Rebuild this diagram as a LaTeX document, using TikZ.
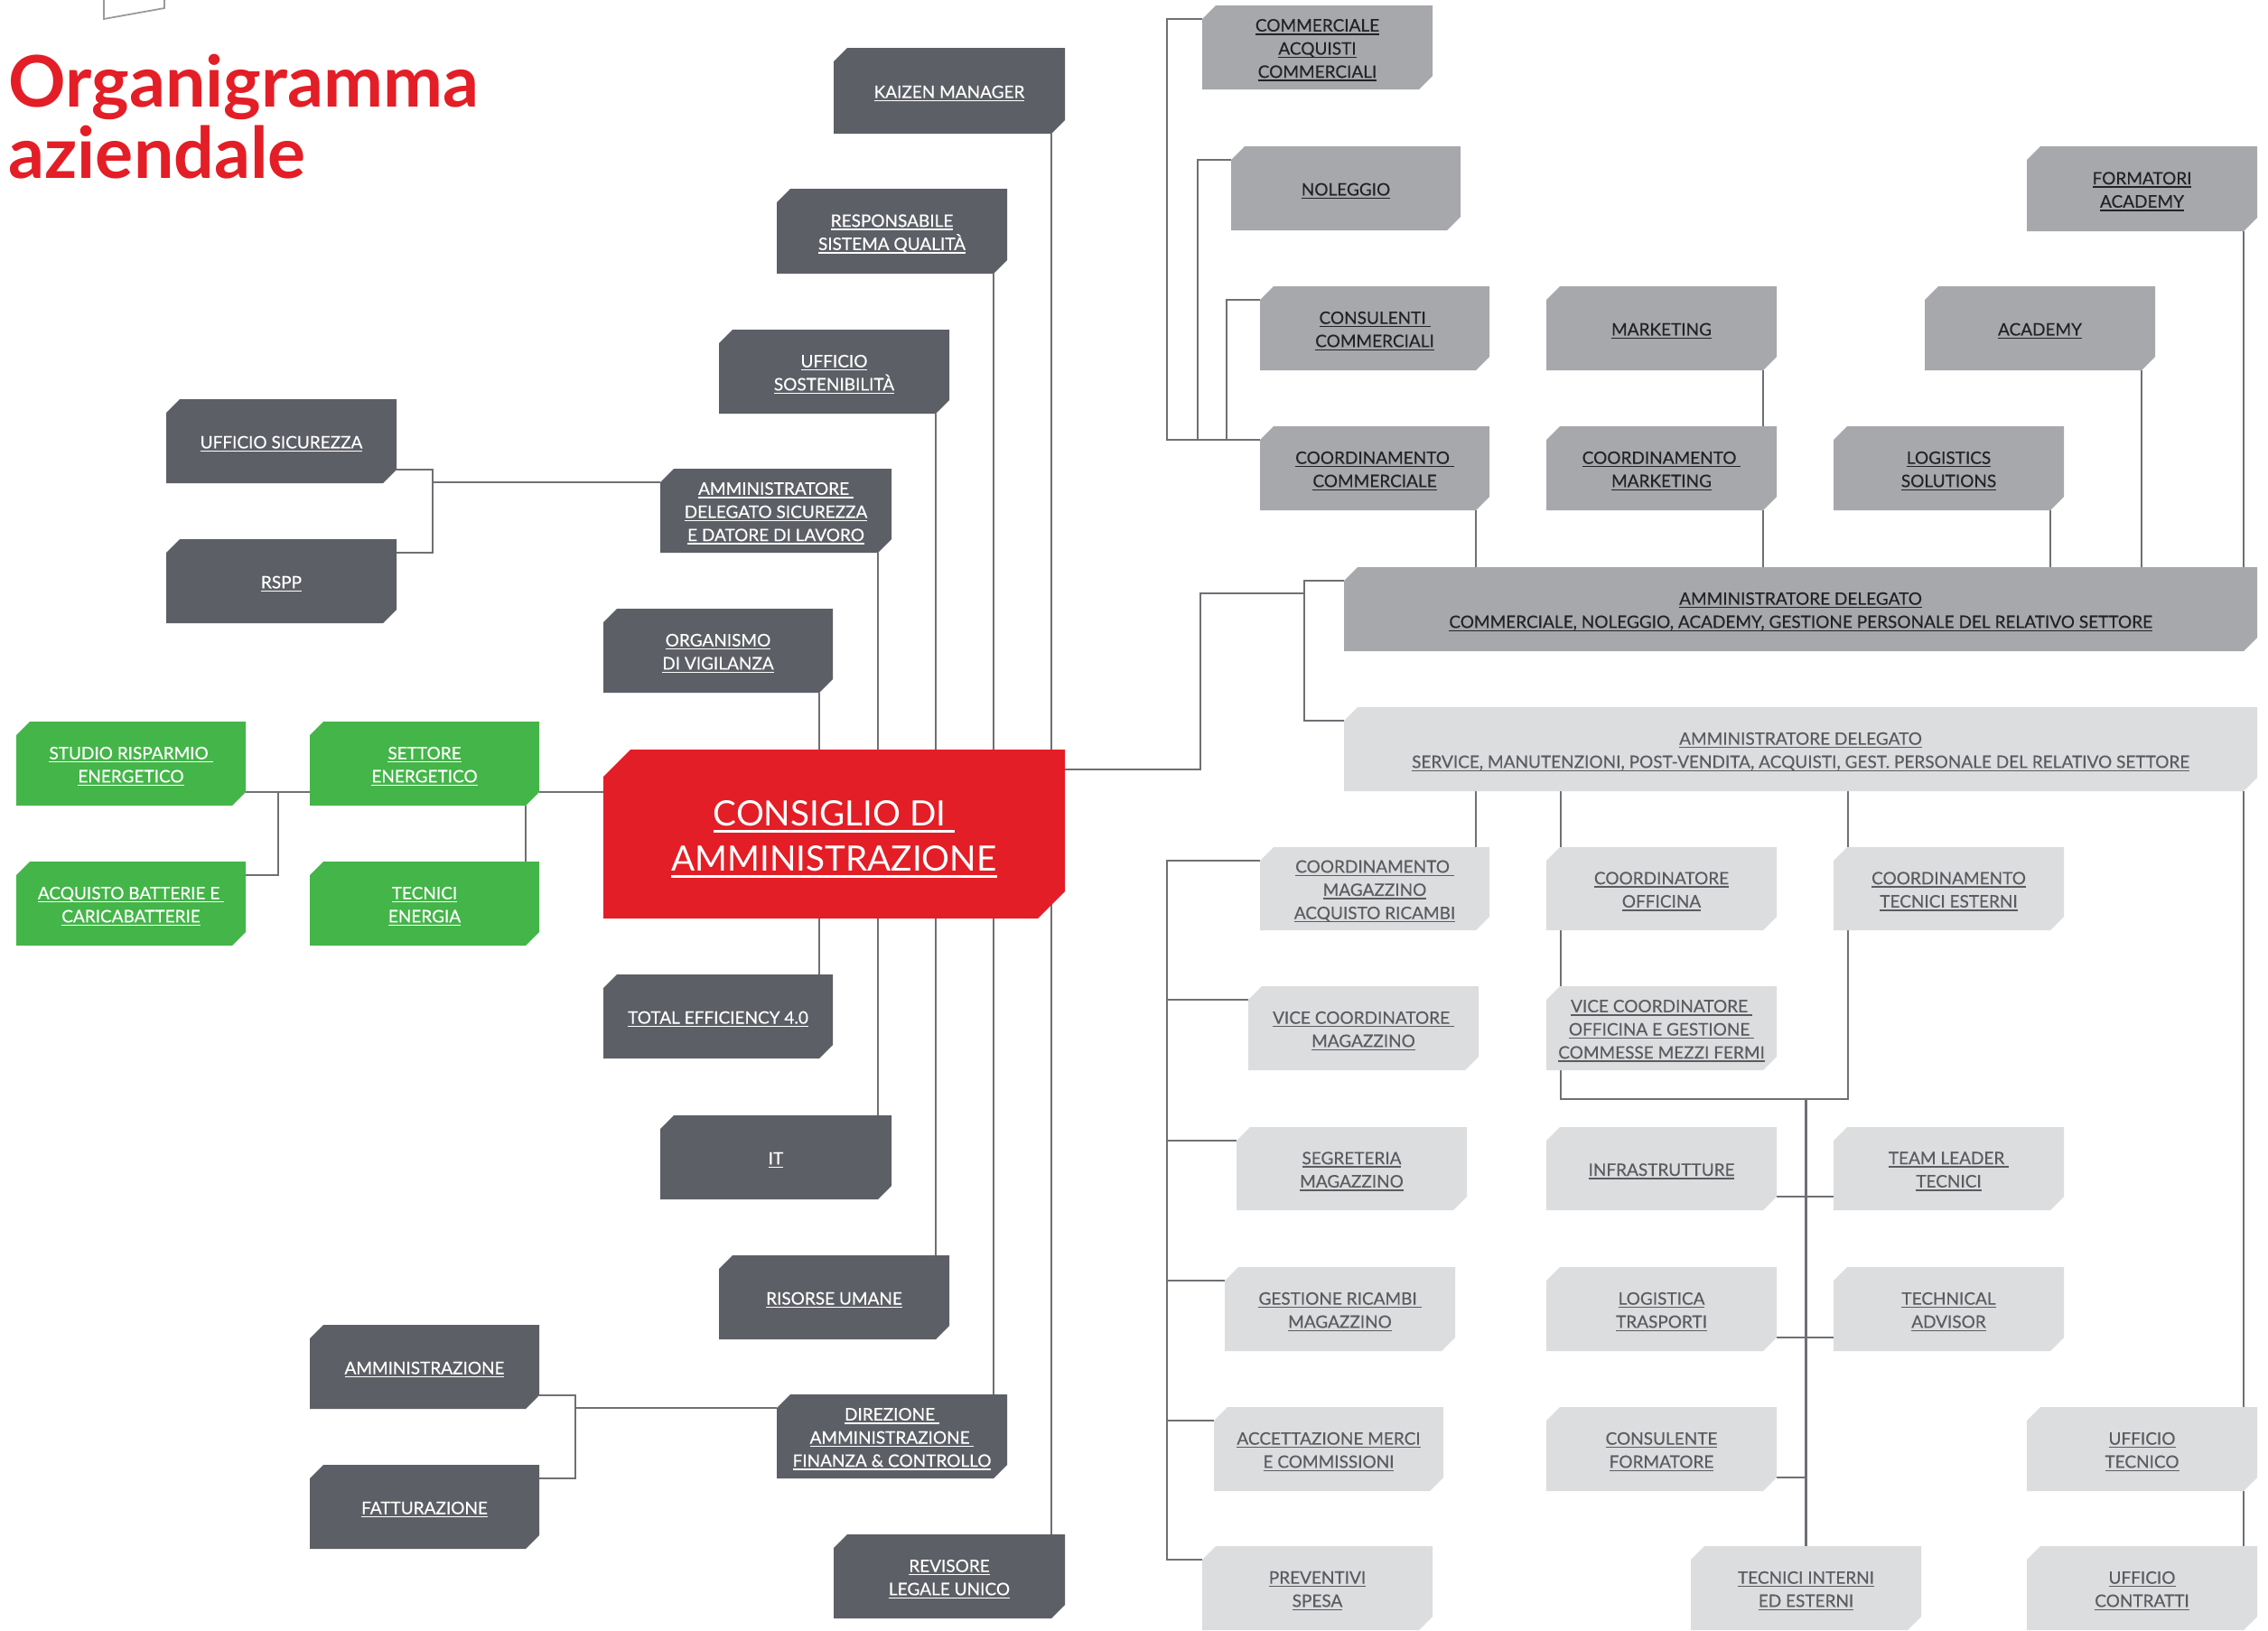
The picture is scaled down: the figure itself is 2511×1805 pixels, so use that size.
\documentclass[tikz,border=0pt]{standalone}
\usepackage{fontspec}
\setmainfont{Lato}
\newfontfamily\bxfont[FakeBold=0.35]{Lato}
\usetikzlibrary{calc}
\pgfdeclarelayer{bg}
\pgfsetlayers{bg,main}
\definecolor{cdark}{HTML}{5D5F66}
\definecolor{cmed}{HTML}{A7A8AB}
\definecolor{clight}{HTML}{DCDDDF}
\definecolor{cred}{HTML}{E31E26}
\definecolor{cgreen}{HTML}{44B549}
\definecolor{cline}{HTML}{6E7075}
\definecolor{ctxtm}{HTML}{232325}
\definecolor{ctxtl}{HTML}{5B5C60}
\newcommand\ulx[1]{\leavevmode\setbox0=\hbox{#1}\rlap{\rule[-0.2em]{\wd0}{0.08em}}\box0}
\tikzset{
  chf/.style 2 args={path picture={\fill[#1] (path picture bounding box.south west)
     -- ([yshift=-#2]path picture bounding box.north west)
     -- ([xshift=#2]path picture bounding box.north west)
     -- (path picture bounding box.north east)
     -- ([yshift=#2]path picture bounding box.south east)
     -- ([xshift=-#2]path picture bounding box.south east) -- cycle;}},
  bx/.style={rectangle, inner sep=0pt, outer sep=0pt},
  bxt/.style={inner sep=0pt, outer sep=0pt, align=center, font=\bxfont\fontsize{5.4}{7.3}\selectfont, yshift=-0.03cm},
  dk/.style={bx, chf={cdark}{.15cm}},
  gr/.style={bx, chf={cgreen}{.15cm}},
  md/.style={bx, chf={cmed}{.15cm}},
  lt/.style={bx, chf={clight}{.15cm}},
  rd/.style={bx, chf={cred}{.30cm}},
  dkt/.style={bxt, text=white},
  grt/.style={bxt, text=white},
  mdt/.style={bxt, text=ctxtm},
  ltt/.style={bxt, text=ctxtl},
  rdt/.style={bxt, text=white, font=\fontsize{11}{14.2}\selectfont, yshift=-0.03cm},
  ln/.style={draw=cline, line width=0.6pt}
}
\newcommand\obox[7]{%
  \node[#2, minimum width={(#5-#3)*0.01cm}, minimum height={(#6-#4)*0.01cm}] (#1) at ({(#3+#5)/2},{(#4+#6)/2}) {};
  \node[#2t] (#1-lab) at (#1.center) {#7};
  \coordinate (#1-tl) at ([yshift=-.15cm]#1.north west);
  \coordinate (#1-rt) at ([yshift=-.15cm]#1.north east);
  \coordinate (#1-rb) at ([yshift=.15cm]#1.south east);
  \coordinate (#1-bx) at ([xshift=-.15cm]#1.south east);
  \coordinate (#1-tx) at ([xshift=-.15cm]#1.north east);
  \coordinate (#1-ty) at ([xshift=.16cm]#1.north west);
  \coordinate (#1-by) at ([xshift=.16cm]#1.south west);
}
\begin{document}
\begin{tikzpicture}[x=0.01cm, y=-0.01cm]
\useasboundingbox (0,0) rectangle (2511,1805);
\begin{pgfonlayer}{bg}
\fill[white] (0,0) rectangle (2511,1805);
\end{pgfonlayer}

% decorative fragment at top left
\draw[draw=black!40, line width=0.5pt] (115,-5) -- (115,21) -- (182,9) -- (182,-5);

% title
\node[anchor=north west, inner sep=0pt, align=left, text=cred,
      font=\fontsize{22.4}{22.6}\selectfont\bfseries] (title) at (9,59) {Organigramma\\aziendale};

% centre column
\obox{kz}{dk}{923}{53}{1179}{148}{\ulx{KAIZEN MANAGER}}
\obox{resp}{dk}{860}{209}{1115}{303}{\ulx{RESPONSABILE}\\\ulx{SISTEMA QUALITÀ}}
\obox{sost}{dk}{796}{365}{1051}{458}{\ulx{UFFICIO}\\\ulx{SOSTENIBILITÀ}}
\obox{adsic}{dk}{731}{519}{987}{612}{\ulx{AMMINISTRATORE\ }\\\ulx{DELEGATO SICUREZZA}\\\ulx{E DATORE DI LAVORO}}
\obox{odv}{dk}{668}{674}{922}{767}{\ulx{ORGANISMO}\\\ulx{DI VIGILANZA}}
\obox{cda}{rd}{668}{830}{1179}{1017}{\ulx{CONSIGLIO DI\ }\\\ulx{AMMINISTRAZIONE}}
\obox{te}{dk}{668}{1079}{922}{1172}{\ulx{TOTAL EFFICIENCY 4.0}}
\obox{it}{dk}{731}{1235}{987}{1328}{\ulx{IT}}
\obox{ris}{dk}{796}{1390}{1051}{1483}{\ulx{RISORSE UMANE}}
\obox{dir}{dk}{860}{1544}{1115}{1637}{\ulx{DIREZIONE\ }\\\ulx{AMMINISTRAZIONE\ }\\\ulx{FINANZA \& CONTROLLO}}
\obox{rev}{dk}{923}{1699}{1179}{1792}{\ulx{REVISORE}\\\ulx{LEGALE UNICO}}

% left
\obox{usic}{dk}{184}{442}{439}{535}{\ulx{UFFICIO SICUREZZA}}
\obox{rspp}{dk}{184}{597}{439}{690}{\ulx{RSPP}}
\obox{amm}{dk}{343}{1467}{597}{1560}{\ulx{AMMINISTRAZIONE}}
\obox{fatt}{dk}{343}{1622}{597}{1715}{\ulx{FATTURAZIONE}}
\obox{studio}{gr}{18}{799}{272}{892}{\ulx{STUDIO RISPARMIO\ }\\\ulx{ENERGETICO}}
\obox{settore}{gr}{343}{799}{597}{892}{\ulx{SETTORE}\\\ulx{ENERGETICO}}
\obox{acq}{gr}{18}{954}{272}{1047}{\ulx{ACQUISTO BATTERIE E\ }\\\ulx{CARICABATTERIE}}
\obox{tecen}{gr}{343}{954}{597}{1047}{\ulx{TECNICI}\\\ulx{ENERGIA}}

% right, commercial
\obox{comm}{md}{1331}{6}{1586}{99}{\ulx{COMMERCIALE}\\\ulx{ACQUISTI}\\\ulx{COMMERCIALI}}
\obox{nol}{md}{1363}{162}{1617}{255}{\ulx{NOLEGGIO}}
\obox{cons}{md}{1395}{317}{1649}{410}{\ulx{CONSULENTI\ }\\\ulx{COMMERCIALI}}
\obox{ccomm}{md}{1395}{472}{1649}{565}{\ulx{COORDINAMENTO\ }\\\ulx{COMMERCIALE}}
\obox{mkt}{md}{1712}{317}{1967}{410}{\ulx{MARKETING}}
\obox{cmkt}{md}{1712}{472}{1967}{565}{\ulx{COORDINAMENTO\ }\\\ulx{MARKETING}}
\obox{logs}{md}{2030}{472}{2285}{565}{\ulx{LOGISTICS}\\\ulx{SOLUTIONS}}
\obox{acad}{md}{2131}{317}{2386}{410}{\ulx{ACADEMY}}
\obox{form}{md}{2244}{162}{2499}{256}{\ulx{FORMATORI}\\\ulx{ACADEMY}}
\obox{adc}{md}{1488}{628}{2499}{721}{\ulx{AMMINISTRATORE DELEGATO}\\\ulx{COMMERCIALE, NOLEGGIO, ACADEMY, GESTIONE PERSONALE DEL RELATIVO SETTORE}}

% right, service
\obox{ads}{lt}{1488}{783}{2499}{876}{\ulx{AMMINISTRATORE DELEGATO}\\\ulx{SERVICE, MANUTENZIONI, POST-VENDITA, ACQUISTI, GEST. PERSONALE DEL RELATIVO SETTORE}}
\obox{cmag}{lt}{1395}{938}{1649}{1030}{\ulx{COORDINAMENTO\ }\\\ulx{MAGAZZINO}\\\ulx{ACQUISTO RICAMBI}}
\obox{coff}{lt}{1712}{938}{1967}{1030}{\ulx{COORDINATORE}\\\ulx{OFFICINA}}
\obox{ctec}{lt}{2030}{938}{2285}{1030}{\ulx{COORDINAMENTO}\\\ulx{TECNICI ESTERNI}}
\obox{vmag}{lt}{1382}{1092}{1637}{1185}{\ulx{VICE COORDINATORE\ }\\\ulx{MAGAZZINO}}
\obox{voff}{lt}{1712}{1092}{1967}{1185}{\ulx{VICE COORDINATORE\ }\\\ulx{OFFICINA E GESTIONE\ }\\\ulx{COMMESSE MEZZI FERMI}}
\obox{seg}{lt}{1369}{1248}{1624}{1340}{\ulx{SEGRETERIA}\\\ulx{MAGAZZINO}}
\obox{infra}{lt}{1712}{1248}{1967}{1340}{\ulx{INFRASTRUTTURE}}
\obox{tl}{lt}{2030}{1248}{2285}{1340}{\ulx{TEAM LEADER\ }\\\ulx{TECNICI}}
\obox{gest}{lt}{1356}{1403}{1611}{1496}{\ulx{GESTIONE RICAMBI\ }\\\ulx{MAGAZZINO}}
\obox{logt}{lt}{1712}{1403}{1967}{1496}{\ulx{LOGISTICA}\\\ulx{TRASPORTI}}
\obox{tadv}{lt}{2030}{1403}{2285}{1496}{\ulx{TECHNICAL}\\\ulx{ADVISOR}}
\obox{acc}{lt}{1344}{1558}{1598}{1651}{\ulx{ACCETTAZIONE MERCI}\\\ulx{E COMMISSIONI}}
\obox{cform}{lt}{1712}{1558}{1967}{1651}{\ulx{CONSULENTE}\\\ulx{FORMATORE}}
\obox{utec}{lt}{2244}{1558}{2499}{1651}{\ulx{UFFICIO}\\\ulx{TECNICO}}
\obox{prev}{lt}{1331}{1712}{1586}{1805}{\ulx{PREVENTIVI}\\\ulx{SPESA}}
\obox{tint}{lt}{1872}{1712}{2127}{1805}{\ulx{TECNICI INTERNI}\\\ulx{ED ESTERNI}}
\obox{ucon}{lt}{2244}{1712}{2499}{1805}{\ulx{UFFICIO}\\\ulx{CONTRATTI}}

% junction coordinates
\coordinate (js) at (479,0);
\coordinate (jg) at (308,0);
\coordinate (jd) at (637,0);
\coordinate (cdap) at ([yshift=-.22cm]cda.north east);
\coordinate (jr) at (1329,657);
\coordinate (jv) at (1444,0);
\coordinate (jc1) at (1292,0);
\coordinate (jc2) at (1326,0);
\coordinate (jc3) at (1358,0);
\coordinate (jt) at (0,1217);
\coordinate (jm) at (1292,0);

\begin{pgfonlayer}{bg}
% centre verticals
\draw[ln] (kz-bx) -- (rev-tx);
\draw[ln] (resp-bx) -- (dir-tx);
\draw[ln] (sost-bx) -- (ris-tx);
\draw[ln] (adsic-bx) -- (it-tx);
\draw[ln] (odv-bx) -- (te-tx);
% safety
\draw[ln] (usic-rb) -- (usic-rb -| js) -- (rspp-rt -| js) -- (rspp-rt);
\draw[ln] (adsic-tl) -- (adsic-tl -| js);
% energy
\draw[ln] (studio-rb) -- (studio-rb -| settore.west);
\draw[ln] (settore-rb) -- (settore-rb -| cda.west);
\draw[ln] (studio-rb -| jg) -- (acq-rt -| jg) -- (acq-rt);
\draw[ln] (settore-bx) -- (tecen-tx);
% direzione
\draw[ln] (amm-rb) -- (amm-rb -| jd) -- (fatt-rt -| jd) -- (fatt-rt);
\draw[ln] (dir-tl) -- (dir-tl -| jd);
% CdA to the two AD
\draw[ln] (cdap) -- (cdap -| jr) -- (jr) -- (jr -| jv);
\draw[ln] (adc-tl) -- (adc-tl -| jv) -- (ads-tl -| jv) -- (ads-tl);
% commercial tree
\draw[ln] (comm-tl) -- (comm-tl -| jc1) -- (ccomm-tl -| jc1) -- (ccomm-tl);
\draw[ln] (nol-tl) -- (nol-tl -| jc2) -- (ccomm-tl -| jc2);
\draw[ln] (cons-tl) -- (cons-tl -| jc3) -- (ccomm-tl -| jc3);
\draw[ln] (ccomm-bx) -- (ccomm-bx |- adc.north);
\draw[ln] (mkt-bx) -- (cmkt-tx);
\draw[ln] (cmkt-bx) -- (cmkt-bx |- adc.north);
\draw[ln] (logs-bx) -- (logs-bx |- adc.north);
\draw[ln] (acad-bx) -- (acad-bx |- adc.north);
\draw[ln] (form-bx) -- (form-bx |- adc.north);
% service tree
\draw[ln] (cmag-tx |- ads.south) -- (cmag-tx);
\draw[ln] (coff-ty |- ads.south) -- (coff-ty);
\draw[ln] (coff-by) -- (voff-ty);
\draw[ln] (voff-by) -- (voff-by |- jt) -- (ctec-by |- jt) -- (ctec-by);
\draw[ln] (ctec-ty |- ads.south) -- (ctec-ty);
\draw[ln] (tint.north |- jt) -- (tint.north);
\draw[ln] (infra-rb) -- (infra-rb -| tl.west);
\draw[ln] (logt-rb) -- (logt-rb -| tadv.west);
\draw[ln] (cform-rb) -- (cform-rb -| tint.north);
\draw[ln] (utec-tx |- ads.south) -- (utec-tx);
\draw[ln] (utec-bx) -- (ucon-tx);
% magazzino tree
\draw[ln] (cmag-tl) -- (cmag-tl -| jm) -- (prev-tl -| jm) -- (prev-tl);
\draw[ln] (vmag-tl) -- (vmag-tl -| jm);
\draw[ln] (seg-tl) -- (seg-tl -| jm);
\draw[ln] (gest-tl) -- (gest-tl -| jm);
\draw[ln] (acc-tl) -- (acc-tl -| jm);
\end{pgfonlayer}
\end{tikzpicture}
\end{document}
